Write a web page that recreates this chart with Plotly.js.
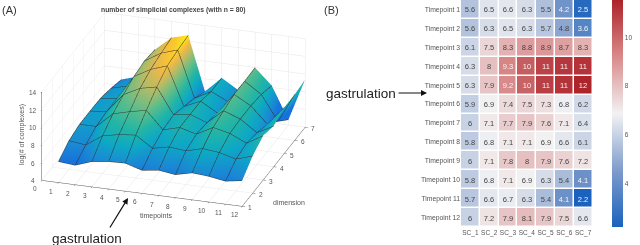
<!DOCTYPE html>
<html><head><meta charset="utf-8"><script src="https://cdn.plot.ly/plotly-3.0.1.min.js"></script>
<style>html,body{margin:0;padding:0;background:#fff}#c{width:640px;height:245px}.main-svg{will-change:transform}</style></head><body><div id="c"></div>
<script>
const timeLabels=["Timepoint 1","Timepoint 2","Timepoint 3","Timepoint 4","Timepoint 5","Timepoint 6","Timepoint 7","Timepoint 8","Timepoint 9","Timepoint 10","Timepoint 11","Timepoint 12"];
const scLabels=["SC_1","SC_2","SC_3","SC_4","SC_5","SC_6","SC_7"];
const timepoints=[1,2,3,4,5,6,7,8,9,10,11,12];
const dimensions=[1,2,3,4,5,6,7];
const xTicks=[0,1,2,3,4,5,6,7,8,9,10,11,12];
const zTicks=[4,6,8,10,12,14];
const values=[
[5.6,6.5,6.6,6.3,5.5,4.2,2.5],
[5.6,6.3,6.5,6.3,5.7,4.8,3.6],
[6.1,7.5,8.3,8.8,8.9,8.7,8.3],
[6.3,8.0,9.3,10.2,10.8,11.1,11.2],
[6.3,7.9,9.2,10.1,10.9,11.2,11.5],
[5.9,6.9,7.4,7.5,7.3,6.8,6.2],
[6.0,7.1,7.7,7.9,7.6,7.1,6.4],
[5.8,6.8,7.1,7.1,6.9,6.6,6.1],
[6.0,7.1,7.8,8.0,7.9,7.6,7.2],
[5.8,6.8,7.1,6.9,6.3,5.4,4.1],
[5.7,6.6,6.7,6.3,5.4,4.1,2.2],
[6.0,7.2,7.9,8.1,7.9,7.5,6.6]];
// rows = dimension 1..7, columns = timepoint 1..12
const surfaceZ=[
[6.37,6.2,6.86,7.1,7.17,6.6,6.86,6.6,7.05,6.9,6.6,6.9],
[7.24,7.0,8.27,8.66,8.85,7.6,8.0,7.8,8.3,8.1,7.6,8.2],
[7.6,7.6,9.27,9.76,10.15,8.2,8.7,8.2,9.2,8.77,7.9,9.0],
[7.6,7.8,9.95,10.9,11.3,8.4,8.7,8.0,9.6,8.9,7.6,8.6],
[7.55,7.8,10.5,11.55,12.2,7.85,8.7,7.6,9.95,8.9,7.05,9.2],
[7.2,7.7,10.76,11.9,12.5,7.3,8.3,7.4,9.95,8.7,5.9,9.2],
[6.7,7.3,10.56,12.17,12.67,6.56,8.35,7.2,10.0,8.2,4.6,9.4]];
const parula=[[0,'#1672dc'],[0.11,'#1a88d4'],[0.27,'#0ea8c6'],[0.42,'#22b5a6'],[0.58,'#5fbd8a'],[0.73,'#a8bc6c'],[0.86,'#e8b84c'],[0.94,'#fcc82e'],[1,'#f9f010']];
const diverging=[[0,'#1a62bd'],[0.25,'#7f9ccc'],[0.5,'#f2f2f3'],[0.75,'#d98a8a'],[1,'#ad2229']];
const gray='#555',font='Liberation Sans, Arial';
const isPale=v=>v>=4.5&&v<9;
const surf={type:'surface',x:timepoints,y:dimensions,z:surfaceZ,colorscale:parula,cmin:6.3,cmax:12.7,showscale:false,hoverinfo:'skip',
 lighting:{ambient:1,diffuse:0,specular:0,roughness:1,fresnel:0},
 contours:{x:{show:true,color:'#333',width:1,start:1,end:12,size:1},y:{show:true,color:'#333',width:1,start:1,end:7,size:1},z:{show:false}}};
const heatBase={type:'heatmap',x:scLabels,y:timeLabels,xaxis:'x',yaxis:'y',xgap:1.5,ygap:1.5,colorscale:diverging,zmin:2.2,zmax:11.55,texttemplate:'%{z:.2~g}',hoverinfo:'skip'};
const heatPale=Object.assign({},heatBase,{z:values.map(r=>r.map(v=>isPale(v)?v:null)),textfont:{size:7.5,family:font,color:'#444'},
 colorbar:{x:612/640,xanchor:'left',xpad:0,y:1,yanchor:'top',ypad:0,len:227/245,lenmode:'fraction',thickness:11,thicknessmode:'pixels',outlinewidth:0,tickvals:[4,6,8,10],ticks:'',tickfont:{size:6.5,color:gray,family:font}}});
const heatDark=Object.assign({},heatBase,{z:values.map(r=>r.map(v=>isPale(v)?null:v)),textfont:{size:7.5,family:font,color:'#f4f4f4'},showscale:false});
const ax=(range,dtick)=>({title:{text:''},range:range,dtick:dtick,showticklabels:false,gridcolor:'#e6e6e6',gridwidth:1,showbackground:false,showspikes:false,zeroline:false,showline:true,linecolor:'#555',linewidth:1,ticks:'outside',ticklen:3,tickcolor:'#555'});
const th=17.8*Math.PI/180,el=23.8*Math.PI/180,dist=4;
const tick={showarrow:false,font:{size:6.5,color:gray,family:font}};
const sceneAnn=[
 ...xTicks.map(t=>Object.assign({x:t,y:1,z:4,text:String(t),xshift:-7,yshift:-8},tick)),
 ...dimensions.map(d=>Object.assign({x:12,y:d,z:4,text:String(d),xshift:8,yshift:-1},tick)),
 ...zTicks.map(z=>Object.assign({x:0,y:1,z:z,text:String(z),xshift:-9,yshift:0},tick))];
const paperText=(x,y,text,size,color,anchor,angle)=>({xref:'paper',yref:'paper',x:x/640,y:1-y/245,xanchor:anchor||'center',yanchor:'middle',text:text,showarrow:false,textangle:angle||0,font:{size:size,color:color,family:font}});
const layout={width:640,height:245,margin:{l:0,r:0,t:0,b:0},paper_bgcolor:'#fff',showlegend:false,
 scene:{domain:{x:[0,0.542],y:[0.108,0.994]},aspectmode:'manual',aspectratio:{x:1.94,y:1.90,z:0.892},annotations:sceneAnn,
  xaxis:ax([0,12],1),yaxis:ax([0.999,7.001],1),zaxis:ax([4,14],2),
  camera:{projection:{type:'orthographic'},center:{x:0,y:0,z:0},up:{x:0,y:0,z:1},eye:{x:dist*Math.sin(th)*Math.cos(el),y:-dist*Math.cos(th)*Math.cos(el),z:dist*Math.sin(el)}}},
 xaxis:{domain:[461/640,592.5/640],anchor:'y',side:'bottom',ticks:'',tickangle:0,showgrid:false,zeroline:false,tickfont:{size:6.5,color:gray,family:font}},
 yaxis:{domain:[18/245,1],anchor:'x',autorange:'reversed',ticks:'',showgrid:false,zeroline:false,tickfont:{size:6.8,color:gray,family:font}},
 annotations:[
  paperText(0,10,'(A)',11,'#333','left'),
  paperText(322,10,'(B)',11,'#333','left'),
  paperText(173,10,'<b>number of simplicial complexes (with n = 80)</b>',6.8,'#444'),
  paperText(156,216,'timepoints',7,gray),
  paperText(289,202,'dimension',7,gray),
  paperText(22,135,'log(# of complexes)',7,gray,'center',-90),
  paperText(87,238,'gastrulation',13.5,'#222'),
  paperText(361,93,'gastrulation',13.5,'#222'),
  {xref:'paper',yref:'paper',x:128/640,y:1-198/245,axref:'pixel',ayref:'pixel',ax:-19,ay:31,text:'',showarrow:true,arrowhead:2,arrowsize:1,arrowwidth:1.2,arrowcolor:'#111'},
  {xref:'paper',yref:'paper',x:427/640,y:1-93/245,axref:'pixel',ayref:'pixel',ax:-30,ay:0,text:'',showarrow:true,arrowhead:2,arrowsize:1,arrowwidth:1.2,arrowcolor:'#111'}
 ]};
Plotly.newPlot('c',[surf,heatPale,heatDark],layout,{displayModeBar:false});
</script></body></html>
